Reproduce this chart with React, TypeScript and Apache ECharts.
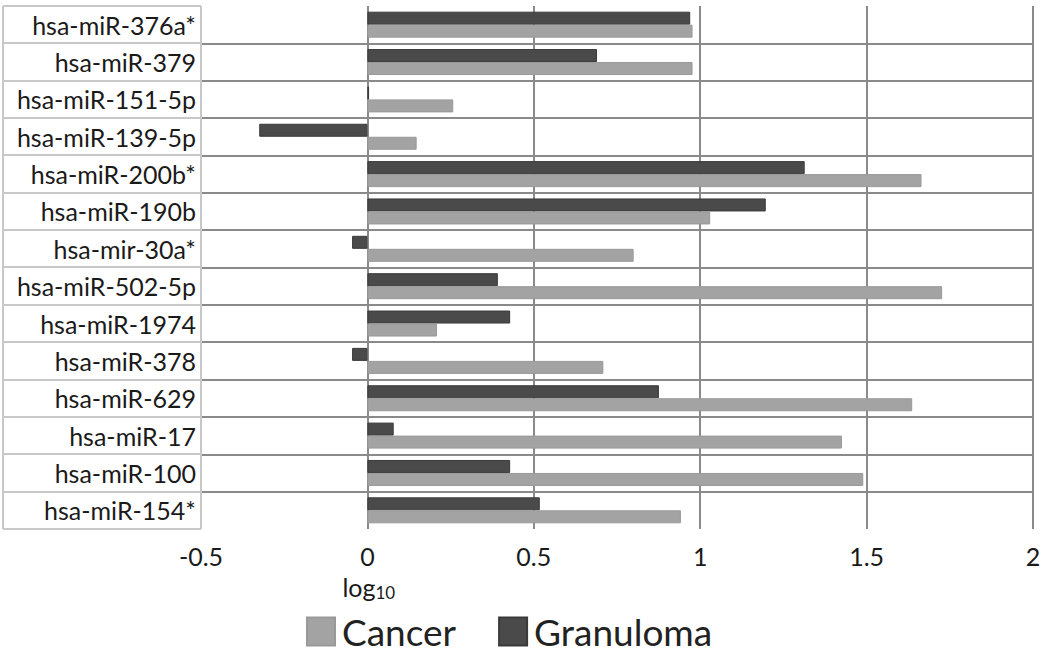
import React, { useEffect, useRef } from "react";
import * as echarts from "echarts";

const categories = [
  "hsa-miR-376a*",
  "hsa-miR-379",
  "hsa-miR-151-5p",
  "hsa-miR-139-5p",
  "hsa-miR-200b*",
  "hsa-miR-190b",
  "hsa-mir-30a*",
  "hsa-miR-502-5p",
  "hsa-miR-1974",
  "hsa-miR-378",
  "hsa-miR-629",
  "hsa-miR-17",
  "hsa-miR-100",
  "hsa-miR-154*",
];

const cancer = [0.977, 0.977, 0.258, 0.148, 1.665, 1.03, 0.8, 1.727, 0.209, 0.709, 1.637, 1.426, 1.49, 0.942];
const granuloma = [0.97, 0.69, 0.005, -0.325, 1.314, 1.197, -0.046, 0.392, 0.429, -0.046, 0.876, 0.079, 0.429, 0.518];

const xMin = -0.5;
const xMax = 2;
const xInterval = 0.5;

const FONT = "Lato";

export default function App() {
  const ref = useRef<HTMLDivElement>(null);

  useEffect(() => {
    if (!ref.current) return;
    const chart = echarts.init(ref.current, null, { renderer: "svg" });
    const option: any = {
      animation: false,
      backgroundColor: "#ffffff",
      textStyle: { fontFamily: FONT },
      grid: { left: 201, right: 17, top: 6, bottom: 128, containLabel: false },
      legend: {
        data: ["Cancer", "Granuloma"],
        top: 613,
        left: 306,
        padding: 0,
        itemWidth: 28,
        itemHeight: 28,
        itemGap: 42,
        icon: "rect",
        textStyle: { fontFamily: FONT, fontSize: 37, color: "#222", padding: [0, 0, 0, 2] },
      },
      xAxis: {
        type: "value",
        min: xMin,
        max: xMax,
        interval: xInterval,
        axisLine: { show: false },
        axisTick: { show: false },
        axisLabel: {
          fontFamily: FONT,
          fontSize: 25,
          color: "#1a1a1a",
          margin: 14,
          formatter: (v: number) => String(v),
        },
        splitLine: { show: true, showMinLine: false, lineStyle: { color: "#8a8a8a", width: 2 } },
      },
      yAxis: {
        type: "category",
        data: categories,
        inverse: true,
        axisLine: { show: false },
        axisTick: { show: false },
        axisLabel: { fontFamily: FONT, fontSize: 25, color: "#1a1a1a", margin: 5 },
        splitLine: {
          show: true,
          showMinLine: false,
          showMaxLine: false,
          lineStyle: { color: "#8a8a8a", width: 2 },
        },
      },
      series: [
        {
          name: "Granuloma",
          type: "bar",
          data: granuloma,
          barWidth: 13,
          barGap: "0%",
          itemStyle: { color: "#4a4a4a", borderColor: "#3a3a3a", borderWidth: 1 },
        },
        {
          name: "Cancer",
          type: "bar",
          data: cancer,
          barWidth: 13,
          barGap: "0%",
          itemStyle: { color: "#a3a3a3", borderColor: "#999999", borderWidth: 1 },
        },
      ],
    };
    chart.setOption(option);

    const n = categories.length;
    const p0 = chart.convertToPixel({ gridIndex: 0 }, [xMin, 0]);
    const p1 = chart.convertToPixel({ gridIndex: 0 }, [xMin, 1]);
    const bandH = p1[1] - p0[1];
    const top = p0[1] - bandH / 2;
    const bottom = top + bandH * n;
    const xLeftPlot = p0[0];
    const xZero = chart.convertToPixel({ gridIndex: 0 }, [0, 0])[0];
    const boxStroke = { stroke: "#c8c8c8", lineWidth: 2 };
    const graphics: any[] = [];
    for (let i = 0; i <= n; i++) {
      const y = Math.round(top + bandH * i);
      graphics.push({
        type: "line",
        shape: { x1: 3, y1: y, x2: xLeftPlot, y2: y },
        style: boxStroke,
        silent: true,
      });
    }
    graphics.push({ type: "line", shape: { x1: 3, y1: top, x2: 3, y2: bottom }, style: boxStroke, silent: true });
    graphics.push({
      type: "line",
      shape: { x1: xLeftPlot, y1: top, x2: xLeftPlot, y2: bottom },
      style: boxStroke,
      silent: true,
    });
    graphics.push({
      type: "text",
      x: xZero - 25,
      y: bottom + 44,
      style: {
        text: "{a|log}{b|10}",
        rich: {
          a: { fontFamily: FONT, fontSize: 25, fill: "#1a1a1a" },
          b: { fontFamily: FONT, fontSize: 17, fill: "#1a1a1a", padding: [11, 0, 0, 0] },
        },
      },
      silent: true,
    });
    chart.setOption({ graphic: graphics });

    return () => chart.dispose();
  }, []);

  return <div ref={ref} style={{ width: 1050, height: 657, position: "absolute", left: 0, top: 0 }} />;
}
